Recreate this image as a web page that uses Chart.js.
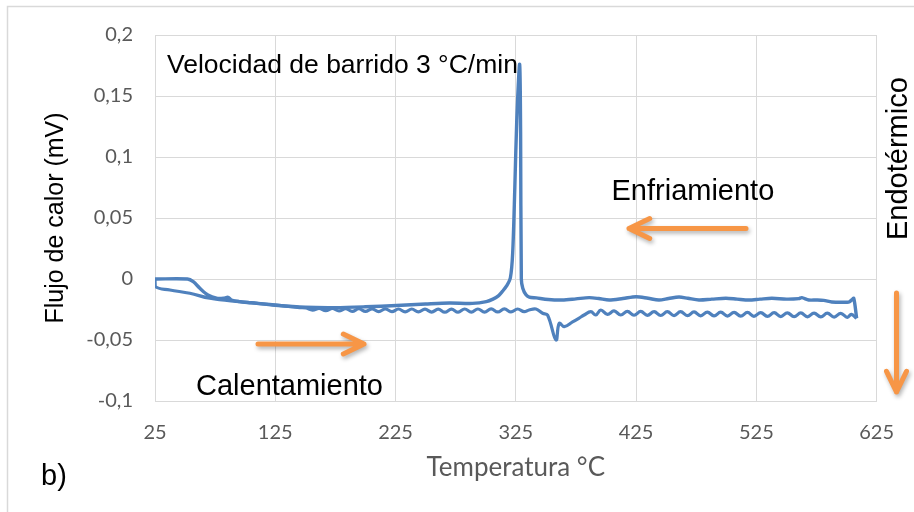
<!DOCTYPE html>
<html>
<head>
<meta charset="utf-8">
<script src="https://cdn.jsdelivr.net/npm/chart.js@4/dist/chart.umd.min.js"></script>
<style>
  html, body { margin: 0; padding: 0; background: #ffffff; }
  #wrap { width: 914px; height: 512px; }
</style>
</head>
<body>
<div id="wrap"><canvas id="dsc" width="914" height="512"></canvas></div>
<script>
// DSC run, 3 °C/min: heating and cooling traces (temperature in °C, heat flow in mV)
const tempCalentamiento = [
  25, 25.3, 37.4, 54, 70.6, 95.5, 120.4, 145.3,
  150.5, 156, 161.5, 167, 172.5, 178, 183.5, 189, 194.5, 200,
  205.5, 211, 216.5, 222, 227.5, 233, 238.5, 244, 249.5, 255,
  260.5, 266, 271.5, 277, 282.5, 288, 293.5, 299, 304.5, 310,
  315.5, 321, 326.5, 332, 336, 341.8, 347.3, 351.4, 358.4, 361.1,
  365.3, 372.2, 377.7, 381.8, 387.4, 391.5, 395.7, 401.2, 406.7, 412.3,
  417.8, 423.3, 428.9, 434.4, 440, 445.5, 451, 456.6, 462, 467.7,
  473.2, 478.7, 484.3, 489.8, 495.4, 501, 506.5, 512, 517.6, 523,
  528.7, 534.2, 539.8, 545.3, 550.8, 556.4, 562, 567.5, 573, 578.6,
  584, 589.7, 595.2, 600.7, 604, 608.4
];
const flujoCalentamiento = [
  0, -0.0063, -0.009, -0.0117, -0.0158, -0.0186, -0.0208, -0.0234,
  -0.0238, -0.0255, -0.0240, -0.0260, -0.0242, -0.0262, -0.0243, -0.0265, -0.0244, -0.0266,
  -0.0245, -0.0268, -0.0245, -0.0268, -0.0246, -0.0270, -0.0246, -0.0270, -0.0247, -0.0271,
  -0.0247, -0.0272, -0.0247, -0.0272, -0.0246, -0.0271, -0.0246, -0.0271, -0.0245, -0.0270,
  -0.0245, -0.0270, -0.0246, -0.0268, -0.0254, -0.0246, -0.0281, -0.0295, -0.0500, -0.0363,
  -0.0390, -0.0352, -0.0320, -0.0295, -0.0268, -0.0295, -0.0254, -0.0290, -0.0262, -0.0295,
  -0.0265, -0.0297, -0.0266, -0.0298, -0.0267, -0.0299, -0.0268, -0.0300, -0.0268, -0.0301,
  -0.0270, -0.0302, -0.0271, -0.0303, -0.0272, -0.0304, -0.0273, -0.0305, -0.0274, -0.0306,
  -0.0275, -0.0307, -0.0276, -0.0308, -0.0277, -0.0309, -0.0278, -0.0310, -0.0279, -0.0311,
  -0.0280, -0.0312, -0.0281, -0.0314, -0.0290, -0.0322
];

const tempEnfriamiento = [
  608.4, 606, 604.3, 601.8, 594, 587.7, 581, 575, 568.6, 562.8,
  560.3, 550, 537.9, 528, 518.8, 509, 499.7, 488, 477.3, 468,
  460.7, 452, 444, 435, 425, 414, 402.6, 394, 386, 375,
  363.6, 352, 342, 336.2, 333.5, 330.8, 329.6, 329.0, 328.2, 325.8,
  324.2, 322.4, 320.5, 317.5, 314, 310.5, 306, 300.5, 288.9, 269.8,
  250, 225.8, 200, 175, 150, 125, 105, 95, 88.6, 85.8,
  82, 76.2, 69, 62.3, 56.8, 52, 25
];
const flujoEnfriamiento = [
  -0.0322, -0.0158, -0.0172, -0.0189, -0.0190, -0.0189, -0.0175, -0.0172, -0.0172, -0.0153,
  -0.0161, -0.0165, -0.0158, -0.0165, -0.0172, -0.0165, -0.0158, -0.0165, -0.0172, -0.0158,
  -0.0148, -0.0160, -0.0172, -0.0158, -0.0145, -0.0160, -0.0172, -0.0160, -0.0153, -0.0163,
  -0.0172, -0.0168, -0.0155, -0.0148, -0.0130, -0.0075, 0.0, 0.12, 0.176, 0.130,
  0.0754, 0.0213, 0.0010, -0.0055, -0.0100, -0.0138, -0.0165, -0.0186, -0.0200, -0.0197,
  -0.0205, -0.0217, -0.0228, -0.0235, -0.0232, -0.0215, -0.0195, -0.0185, -0.0172, -0.0150,
  -0.0158, -0.0158, -0.0131, -0.0076, -0.0022, 0, 0
];

const xTickValues = [25, 125, 225, 325, 425, 525, 625];
const xTickLabels = ['25', '125', '225', '325', '425', '525', '625'];
const yTickValues = [-0.1, -0.05, 0, 0.05, 0.1, 0.15, 0.2];
const yTickLabels = ['-0,1', '-0,05', '0', '0,05', '0,1', '0,15', '0,2'];

const toPoints = (xs, ys) => xs.map((x, i) => ({ x: x, y: ys[i] }));

const lineBlue = '#4f81bd';
const arrowOrange = '#f79646';
const gridGrey = '#d9d9d9';
const tickGrey = '#595959';

// Frame, notes and arrows drawn around the plot
const notesPlugin = {
  id: 'notes',
  beforeDraw(chart) {
    const ctx = chart.ctx;
    ctx.save();
    ctx.fillStyle = '#ffffff';
    ctx.fillRect(0, 0, chart.width, chart.height);
    ctx.strokeStyle = gridGrey;
    ctx.lineWidth = 1.5;
    ctx.strokeRect(7.5, 6.5, 930, 530);
    ctx.restore();
  },
  afterDraw(chart) {
    const ctx = chart.ctx;
    ctx.save();
    ctx.fillStyle = '#000000';
    ctx.textAlign = 'left';
    ctx.textBaseline = 'alphabetic';

    ctx.font = '26.5px "Liberation Sans", Arial, sans-serif';
    ctx.fillText('Velocidad de barrido 3 °C/min', 167, 73);

    ctx.font = '29px "Liberation Sans", Arial, sans-serif';
    ctx.fillText('Enfriamiento', 611.5, 200);
    ctx.fillText('Calentamiento', 196, 395);
    ctx.fillText('b)', 41, 485);

    ctx.save();
    ctx.translate(906.5, 240);
    ctx.rotate(-Math.PI / 2);
    ctx.fillText('Endotérmico', 0, 0);
    ctx.restore();

    const arrow = (x0, y0, x1, y1) => {
      const ang = Math.atan2(y1 - y0, x1 - x0);
      const headLen = 23, headAng = 0.45;
      ctx.save();
      ctx.strokeStyle = arrowOrange;
      ctx.lineWidth = 5;
      ctx.lineCap = 'round';
      ctx.lineJoin = 'round';
      ctx.shadowColor = 'rgba(0,0,0,0.30)';
      ctx.shadowBlur = 4;
      ctx.shadowOffsetX = 1.5;
      ctx.shadowOffsetY = 2.5;
      ctx.beginPath();
      ctx.moveTo(x0, y0);
      ctx.lineTo(x1, y1);
      ctx.moveTo(x1 - headLen * Math.cos(ang - headAng), y1 - headLen * Math.sin(ang - headAng));
      ctx.lineTo(x1, y1);
      ctx.lineTo(x1 - headLen * Math.cos(ang + headAng), y1 - headLen * Math.sin(ang + headAng));
      ctx.stroke();
      ctx.restore();
    };
    arrow(746, 228.5, 629, 228.5);
    arrow(258, 344, 364, 344);
    arrow(896.5, 293, 896.5, 392);
    ctx.restore();
  }
};

new Chart(document.getElementById('dsc'), {
  type: 'line',
  data: {
    datasets: [
      {
        label: 'Calentamiento',
        data: toPoints(tempCalentamiento, flujoCalentamiento),
        borderColor: lineBlue,
        borderWidth: 3.2,
        pointRadius: 0,
        tension: 0.4,
        fill: false
      },
      {
        label: 'Enfriamiento',
        data: toPoints(tempEnfriamiento, flujoEnfriamiento),
        borderColor: lineBlue,
        borderWidth: 3.4,
        pointRadius: 0,
        tension: 0.3,
        fill: false
      }
    ]
  },
  options: {
    responsive: false,
    animation: false,
    devicePixelRatio: 1,
    layout: { padding: { left: 0, top: 35, right: 36, bottom: 0 } },
    plugins: {
      legend: { display: false },
      tooltip: { enabled: false }
    },
    scales: {
      x: {
        type: 'linear',
        min: 25,
        max: 625,
        afterBuildTicks(scale) { scale.ticks = xTickValues.map(v => ({ value: v })); },
        afterFit(scale) { scale.height = 111; },
        grid: { color: gridGrey, lineWidth: 1, drawTicks: false },
        border: { color: gridGrey, width: 1 },
        ticks: {
          padding: 20,
          maxRotation: 0,
          color: tickGrey,
          font: { family: 'Lato, "Open Sans", sans-serif', size: 20 },
          callback(value, index) { return xTickLabels[index]; }
        },
        title: {
          display: true,
          text: 'Temperatura °C',
          color: tickGrey,
          font: { family: 'Lato, "Open Sans", sans-serif', size: 26, lineHeight: 1 },
          padding: { top: 0, bottom: 31 }
        }
      },
      y: {
        type: 'linear',
        min: -0.1,
        max: 0.2,
        afterBuildTicks(scale) { scale.ticks = yTickValues.map(v => ({ value: v })); },
        afterFit(scale) { scale.width = 155; },
        grid: { color: gridGrey, lineWidth: 1, drawTicks: false },
        border: { color: gridGrey, width: 1 },
        ticks: {
          padding: 22,
          color: tickGrey,
          font: { family: 'Lato, "Open Sans", sans-serif', size: 20 },
          callback(value, index) { return yTickLabels[index]; }
        },
        title: {
          display: true,
          text: 'Flujo de calor (mV)',
          color: '#000000',
          font: { family: '"Liberation Sans", Arial, sans-serif', size: 25, lineHeight: 1 },
          padding: { top: 44, bottom: 0 }
        }
      }
    }
  },
  plugins: [notesPlugin]
});
</script>
</body>
</html>
